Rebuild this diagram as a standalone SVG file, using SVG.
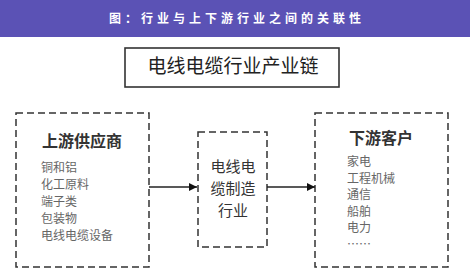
<svg xmlns="http://www.w3.org/2000/svg" width="470" height="277" viewBox="0 0 470 277">
<defs>
<style>
.t{font-family:"Noto Sans CJK SC","Noto Sans",sans-serif}
.hd{font-size:12px;font-weight:bold;fill:#ffffff;letter-spacing:4px}
.big{font-size:19px;fill:#222}
.h2{font-size:16px;font-weight:bold;fill:#333}
.it{font-size:12px;fill:#666}
.mid{font-size:15px;fill:#333}
.box{fill:none;stroke:#333;stroke-width:1.6}
.dash{fill:none;stroke:#333;stroke-width:1.5;stroke-dasharray:7 4}
.conn{stroke:#222;stroke-width:1.3;fill:none}
</style>
<marker id="ah" viewBox="0 0 10 10" refX="10" refY="5" markerWidth="8" markerHeight="8" markerUnits="userSpaceOnUse" orient="auto">
<path d="M0,0 L10,5 L0,10 z" fill="#111"/>
</marker>
</defs>
<rect width="470" height="277" fill="#ffffff"/>
<g id="header">
<rect x="0" y="0" width="470" height="37" fill="#5b52b5"/>
<text class="t hd" x="237" y="23" text-anchor="middle">图：行业与上下游行业之间的关联性</text>
</g>
<g id="title">
<rect class="box" x="125" y="48" width="214" height="39"/>
<text class="t big" x="233" y="73" text-anchor="middle">电线电缆行业产业链</text>
</g>
<g id="upstream">
<rect class="dash" x="16" y="113" width="133" height="154"/>
<text class="t h2" x="42" y="147">上游供应商</text>
<text class="t it" x="41" y="172">铜和铝</text>
<text class="t it" x="41" y="189">化工原料</text>
<text class="t it" x="41" y="206">端子类</text>
<text class="t it" x="41" y="223">包装物</text>
<text class="t it" x="41" y="240">电线电缆设备</text>
</g>
<g id="industry">
<rect class="dash" x="198" y="132" width="69" height="115"/>
<text class="t mid" x="233" y="172" text-anchor="middle">电线电</text>
<text class="t mid" x="233" y="194" text-anchor="middle">缆制造</text>
<text class="t mid" x="233" y="216" text-anchor="middle">行业</text>
</g>
<g id="downstream">
<rect class="dash" x="315" y="113" width="133" height="154"/>
<text class="t h2" x="349" y="144">下游客户</text>
<text class="t it" x="347" y="166">家电</text>
<text class="t it" x="347" y="182.5">工程机械</text>
<text class="t it" x="347" y="199">通信</text>
<text class="t it" x="347" y="215.5">船舶</text>
<text class="t it" x="347" y="232">电力</text>
<text class="t it" x="347" y="249">……</text>
</g>
<g id="connectors">
<line class="conn" x1="149" y1="187" x2="197" y2="187" marker-end="url(#ah)"/>
<line class="conn" x1="267" y1="187" x2="315" y2="187" marker-end="url(#ah)"/>
</g>
</svg>
